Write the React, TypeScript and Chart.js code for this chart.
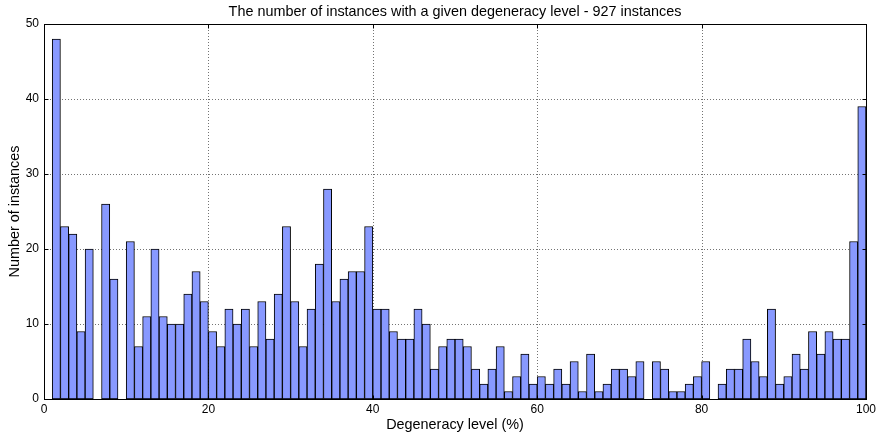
import React, { useEffect, useRef } from "react";
import { Chart, registerables } from "chart.js";

Chart.register(...registerables);

// Histogram bins: bin i covers [i, i+1) percent
const binStarts: number[] = Array.from({ length: 100 }, (_, i) => i);
const counts: number[] = [
  0, 48, 23, 22, 9, 20, 0, 26, 16, 0,
  21, 7, 11, 20, 11, 10, 10, 14, 17, 13,
  9, 7, 12, 10, 12, 7, 13, 8, 14, 23,
  13, 7, 12, 18, 28, 13, 16, 17, 17, 23,
  12, 12, 9, 8, 8, 12, 10, 4, 7, 8,
  8, 7, 4, 2, 4, 7, 1, 3, 6, 2,
  3, 2, 4, 2, 5, 1, 6, 1, 2, 4,
  4, 3, 5, 0, 5, 4, 1, 1, 2, 3,
  5, 0, 2, 4, 4, 8, 5, 3, 12, 2,
  3, 6, 4, 9, 6, 9, 8, 8, 21, 39,
];
const xTicks: number[] = [0, 20, 40, 60, 80, 100];
const yTicks: number[] = [0, 10, 20, 30, 40, 50];
const titleText = "The number of instances with a given degeneracy level - 927 instances";
const xTitle = "Degeneracy level (%)";
const yTitle = "Number of instances";

const FONT = "'Liberation Sans', Arial, sans-serif";

export default function App() {
  const ref = useRef<HTMLCanvasElement | null>(null);

  useEffect(() => {
    document.body.style.margin = "0";
    const canvas = ref.current;
    if (!canvas) return;

    const framePlugin = {
      id: "mplFrame",
      beforeDatasetsDraw(chart: any) {
        const { ctx, chartArea: a, scales } = chart;
        ctx.save();
        ctx.strokeStyle = "rgba(0,0,0,0.55)";
        ctx.lineWidth = 1;
        ctx.setLineDash([1, 2]);
        for (const v of yTicks) {
          const y = Math.round(scales.y.getPixelForValue(v)) + 0.5;
          ctx.beginPath();
          ctx.moveTo(a.left, y);
          ctx.lineTo(a.right, y);
          ctx.stroke();
        }
        for (const v of xTicks) {
          const x = Math.round(scales.x.getPixelForValue(v)) + 0.5;
          ctx.beginPath();
          ctx.moveTo(x, a.top);
          ctx.lineTo(x, a.bottom);
          ctx.stroke();
        }
        ctx.restore();
      },
      afterDatasetsDraw(chart: any) {
        const { ctx, chartArea: a, scales } = chart;
        ctx.save();
        ctx.strokeStyle = "#000";
        ctx.lineWidth = 1;
        ctx.setLineDash([]);
        const L = Math.round(a.left) + 0.5;
        const R = Math.round(a.right) + 0.5;
        const T = Math.round(a.top) + 0.5;
        const B = Math.round(a.bottom) + 0.5;
        ctx.strokeRect(L, T, R - L, B - T);
        const tl = 4;
        for (const v of xTicks) {
          const x = Math.round(scales.x.getPixelForValue(v)) + 0.5;
          ctx.beginPath();
          ctx.moveTo(x, B);
          ctx.lineTo(x, B - tl);
          ctx.moveTo(x, T);
          ctx.lineTo(x, T + tl);
          ctx.stroke();
        }
        for (const v of yTicks) {
          const y = Math.round(scales.y.getPixelForValue(v)) + 0.5;
          ctx.beginPath();
          ctx.moveTo(L, y);
          ctx.lineTo(L + tl, y);
          ctx.moveTo(R, y);
          ctx.lineTo(R - tl, y);
          ctx.stroke();
        }
        // title
        ctx.fillStyle = "#000";
        ctx.font = `14.4px ${FONT}`;
        ctx.textAlign = "center";
        ctx.textBaseline = "middle";
        ctx.fillText(titleText, (a.left + a.right) / 2, 12);
        // x title
        ctx.fillText(xTitle, (a.left + a.right) / 2, 425);
        // y title
        ctx.translate(15, (a.top + a.bottom) / 2);
        ctx.rotate(-Math.PI / 2);
        ctx.fillText(yTitle, 0, 0);
        ctx.restore();
      },
    };

    const chart = new Chart(canvas, {
      type: "bar",
      data: {
        datasets: [
          {
            data: binStarts.map((x, i) => ({ x: x + 0.5, y: counts[i] === 0 ? null : counts[i] })) as any,
            backgroundColor: "#8899ff",
            borderColor: "#000",
            borderWidth: 1,
            borderSkipped: false,
            barPercentage: 1,
            categoryPercentage: 1,
          },
        ],
      },
      options: {
        animation: false,
        responsive: false,
        devicePixelRatio: 1,
        layout: { padding: { top: 24, right: 12, left: 0, bottom: 0 } },
        plugins: {
          legend: { display: false },
          tooltip: { enabled: false },
          title: { display: false },
        },
        scales: {
          x: {
            type: "linear",
            min: 0,
            max: 100,
            offset: false,
            grid: { display: false, drawTicks: false },
            border: { display: false },
            afterBuildTicks: (s: any) => {
              s.ticks = xTicks.map((v) => ({ value: v }));
            },
            afterFit: (s: any) => {
              s.height = 35;
            },
            ticks: {
              color: "#000",
              font: { family: FONT, size: 12 },
              padding: 3,
              maxRotation: 0,
              autoSkip: false,
            },
          },
          y: {
            min: 0,
            max: 50,
            grid: { display: false, drawTicks: false },
            border: { display: false },
            afterBuildTicks: (s: any) => {
              s.ticks = yTicks.map((v) => ({ value: v }));
            },
            afterFit: (s: any) => {
              s.width = 44;
            },
            ticks: {
              color: "#000",
              font: { family: FONT, size: 12 },
              padding: 5,
              autoSkip: false,
            },
          },
        },
      },
      plugins: [framePlugin],
    });

    return () => chart.destroy();
  }, []);

  return (
    <div style={{ width: 879, height: 434 }}>
      <canvas ref={ref} width={879} height={434} style={{ display: "block" }} />
    </div>
  );
}
